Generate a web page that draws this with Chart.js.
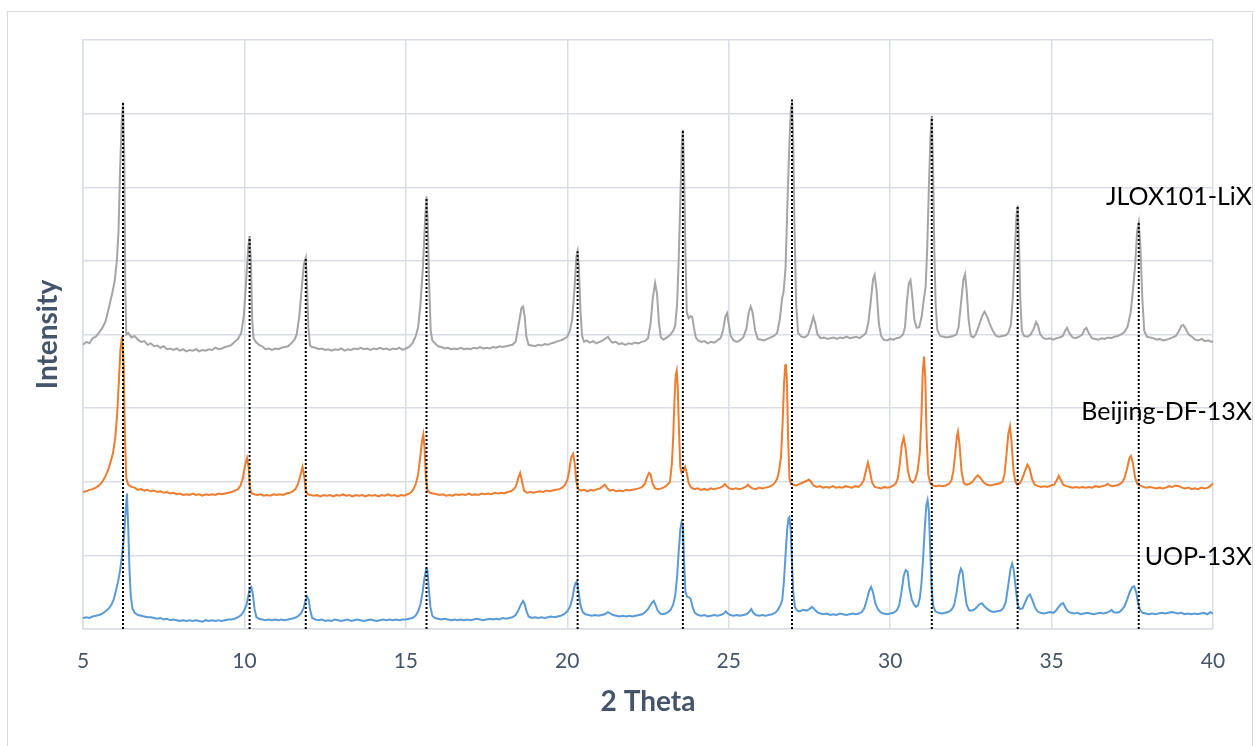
<!DOCTYPE html>
<html>
<head>
<meta charset="utf-8">
<title>XRD patterns</title>
<script src="https://cdn.jsdelivr.net/npm/chart.js@4.4.1/dist/chart.umd.min.js"></script>
<style>
  html, body { margin: 0; padding: 0; background: #ffffff; }
  canvas { display: block; }
</style>
</head>
<body>
<canvas id="xrd" width="1255" height="746"></canvas>
<script>
// ---- Series names ----
const seriesNames = ['UOP-13X', 'Beijing-DF-13X', 'JLOX101-LiX'];

// ---- 2θ tick labels on the x axis ----
const thetaTicks = [5, 10, 15, 20, 25, 30, 35, 40];

// ---- JLOX101-LiX (offset pattern, top) ----
const lixTheta = [
  5.00, 5.10, 5.20, 5.30, 5.40, 5.50, 5.60, 5.70, 5.80, 5.90,
  5.98, 6.05, 6.10, 6.15, 6.20, 6.24, 6.28, 6.31, 6.34, 6.40,
  6.50, 6.60, 6.70, 6.80, 6.90, 7.00, 7.10, 7.20, 7.30, 7.40,
  7.50, 7.60, 7.70, 7.80, 7.90, 8.00, 8.10, 8.20, 8.30, 8.40,
  8.50, 8.60, 8.70, 8.80, 8.90, 9.00, 9.10, 9.20, 9.30, 9.40,
  9.50, 9.60, 9.70, 9.80, 9.90, 9.98, 10.05, 10.12, 10.16, 10.20,
  10.24, 10.28, 10.35, 10.45, 10.55, 10.65, 10.75, 10.85, 10.95, 11.05,
  11.15, 11.25, 11.35, 11.45, 11.55, 11.62, 11.70, 11.77, 11.84, 11.90,
  11.94, 11.98, 12.03, 12.10, 12.20, 12.30, 12.40, 12.50, 12.60, 12.70,
  12.80, 12.90, 13.00, 13.10, 13.20, 13.30, 13.40, 13.50, 13.60, 13.70,
  13.80, 13.90, 14.00, 14.10, 14.20, 14.30, 14.40, 14.50, 14.60, 14.70,
  14.80, 14.90, 15.00, 15.10, 15.20, 15.30, 15.38, 15.45, 15.53, 15.60,
  15.64, 15.68, 15.72, 15.77, 15.82, 15.90, 16.00, 16.10, 16.20, 16.30,
  16.40, 16.50, 16.60, 16.70, 16.80, 16.90, 17.00, 17.10, 17.20, 17.30,
  17.40, 17.50, 17.60, 17.70, 17.80, 17.90, 18.00, 18.10, 18.20, 18.30,
  18.40, 18.50, 18.58, 18.63, 18.68, 18.73, 18.80, 18.90, 19.00, 19.10,
  19.20, 19.30, 19.40, 19.50, 19.60, 19.70, 19.80, 19.90, 20.00, 20.08,
  20.15, 20.22, 20.28, 20.32, 20.36, 20.41, 20.46, 20.52, 20.60, 20.70,
  20.80, 20.90, 21.00, 21.10, 21.20, 21.26, 21.33, 21.40, 21.50, 21.60,
  21.70, 21.80, 21.90, 22.00, 22.10, 22.20, 22.30, 22.40, 22.50, 22.58,
  22.65, 22.72, 22.78, 22.84, 22.90, 22.98, 23.05, 23.12, 23.20, 23.28,
  23.34, 23.40, 23.45, 23.50, 23.55, 23.58, 23.62, 23.66, 23.70, 23.76,
  23.82, 23.87, 23.92, 23.98, 24.05, 24.15, 24.25, 24.35, 24.45, 24.55,
  24.65, 24.75, 24.82, 24.90, 24.95, 25.00, 25.06, 25.15, 25.25, 25.35,
  25.45, 25.55, 25.62, 25.68, 25.74, 25.82, 25.90, 26.00, 26.10, 26.20,
  26.30, 26.40, 26.50, 26.58, 26.65, 26.70, 26.76, 26.82, 26.88, 26.93,
  26.96, 27.00, 27.04, 27.09, 27.15, 27.25, 27.35, 27.45, 27.55, 27.62,
  27.68, 27.75, 27.85, 27.95, 28.05, 28.15, 28.25, 28.35, 28.45, 28.55,
  28.65, 28.75, 28.85, 28.95, 29.05, 29.15, 29.25, 29.32, 29.40, 29.47,
  29.52, 29.58, 29.65, 29.72, 29.80, 29.90, 30.00, 30.10, 30.20, 30.30,
  30.40, 30.46, 30.52, 30.58, 30.63, 30.68, 30.75, 30.82, 30.90, 30.98,
  31.05, 31.10, 31.15, 31.20, 31.25, 31.29, 31.33, 31.37, 31.41, 31.46,
  31.55, 31.65, 31.75, 31.85, 31.95, 32.05, 32.12, 32.20, 32.27, 32.32,
  32.37, 32.43, 32.50, 32.58, 32.65, 32.75, 32.85, 32.92, 33.00, 33.08,
  33.18, 33.28, 33.38, 33.48, 33.58, 33.66, 33.74, 33.80, 33.86, 33.91,
  33.95, 33.99, 34.03, 34.08, 34.15, 34.25, 34.35, 34.45, 34.52, 34.58,
  34.65, 34.75, 34.85, 34.95, 35.05, 35.15, 35.25, 35.35, 35.42, 35.48,
  35.55, 35.65, 35.75, 35.85, 35.95, 36.02, 36.08, 36.15, 36.25, 36.35,
  36.45, 36.55, 36.65, 36.75, 36.85, 36.95, 37.05, 37.15, 37.25, 37.35,
  37.45, 37.52, 37.59, 37.65, 37.70, 37.75, 37.81, 37.87, 37.95, 38.05,
  38.15, 38.25, 38.35, 38.45, 38.55, 38.65, 38.75, 38.85, 38.95, 39.02,
  39.08, 39.15, 39.25, 39.35, 39.45, 39.55, 39.65, 39.75, 39.85, 39.95,
  40.00
];
const lixIntensity = [
  3.86, 3.90, 3.88, 3.95, 3.97, 4.03, 4.09, 4.18, 4.36, 4.55,
  4.72, 5.01, 5.40, 6.25, 6.90, 7.15, 6.40, 4.60, 4.00, 4.02,
  3.96, 3.98, 3.93, 3.90, 3.91, 3.86, 3.88, 3.84, 3.85, 3.82,
  3.84, 3.80, 3.81, 3.79, 3.81, 3.78, 3.80, 3.77, 3.79, 3.78,
  3.80, 3.77, 3.79, 3.78, 3.80, 3.79, 3.82, 3.80, 3.81, 3.83,
  3.84, 3.86, 3.90, 3.94, 4.02, 4.25, 4.70, 5.20, 5.33, 5.00,
  4.20, 3.95, 3.90, 3.86, 3.84, 3.80, 3.81, 3.79, 3.81, 3.80,
  3.82, 3.83, 3.84, 3.88, 3.93, 4.00, 4.25, 4.61, 4.95, 5.04,
  4.70, 4.10, 3.85, 3.83, 3.82, 3.80, 3.81, 3.79, 3.80, 3.78,
  3.80, 3.79, 3.81, 3.78, 3.80, 3.79, 3.81, 3.80, 3.82, 3.80,
  3.81, 3.79, 3.81, 3.80, 3.82, 3.80, 3.81, 3.79, 3.81, 3.80,
  3.82, 3.79, 3.81, 3.83, 3.88, 3.97, 4.10, 4.40, 4.92, 5.60,
  5.87, 5.50, 4.70, 4.05, 3.92, 3.88, 3.84, 3.83, 3.81, 3.82,
  3.80, 3.81, 3.80, 3.82, 3.80, 3.81, 3.80, 3.82, 3.81, 3.83,
  3.81, 3.82, 3.81, 3.83, 3.82, 3.84, 3.83, 3.84, 3.85, 3.86,
  3.90, 4.15, 4.36, 4.38, 4.25, 3.98, 3.86, 3.85, 3.84, 3.86,
  3.85, 3.87, 3.86, 3.88, 3.89, 3.91, 3.92, 3.94, 3.97, 4.05,
  4.20, 4.60, 5.05, 5.13, 4.90, 4.30, 3.98, 3.90, 3.92, 3.89,
  3.91, 3.88, 3.90, 3.92, 3.95, 3.97, 3.92, 3.89, 3.90, 3.87,
  3.88, 3.86, 3.88, 3.87, 3.89, 3.88, 3.90, 3.91, 3.95, 4.15,
  4.50, 4.70, 4.55, 4.15, 3.96, 3.93, 3.95, 3.97, 4.00, 4.05,
  4.12, 4.40, 5.00, 5.80, 6.60, 6.78, 6.20, 5.10, 4.30, 4.22,
  4.25, 4.24, 4.10, 3.96, 3.92, 3.90, 3.91, 3.88, 3.90, 3.89,
  3.92, 3.95, 4.05, 4.25, 4.29, 4.15, 3.98, 3.92, 3.90, 3.92,
  3.96, 4.08, 4.30, 4.38, 4.30, 4.05, 3.94, 3.93, 3.92, 3.94,
  3.96, 3.98, 4.02, 4.20, 4.48, 4.58, 4.90, 5.80, 6.60, 7.10,
  7.19, 6.60, 5.40, 4.40, 4.02, 3.97, 3.96, 3.99, 4.12, 4.24,
  4.15, 4.00, 3.95, 3.96, 3.94, 3.95, 3.96, 3.94, 3.96, 3.95,
  3.97, 3.95, 3.96, 3.97, 3.95, 3.98, 4.02, 4.15, 4.45, 4.75,
  4.81, 4.60, 4.15, 3.98, 3.93, 3.92, 3.94, 3.93, 3.95, 3.96,
  4.00, 4.10, 4.45, 4.70, 4.74, 4.55, 4.20, 4.09, 4.10, 4.25,
  4.50, 4.65, 5.20, 6.00, 6.70, 6.96, 6.30, 5.10, 4.40, 4.06,
  3.98, 3.97, 3.96, 3.97, 3.98, 4.00, 4.10, 4.45, 4.75, 4.82,
  4.60, 4.20, 3.98, 3.96, 4.00, 4.12, 4.25, 4.31, 4.25, 4.15,
  4.05, 3.98, 3.97, 3.98, 3.99, 4.02, 4.13, 4.50, 5.10, 5.60,
  5.75, 5.30, 4.50, 4.05, 3.98, 3.97, 4.00, 4.08, 4.17, 4.12,
  4.00, 3.95, 3.94, 3.95, 3.93, 3.95, 3.96, 3.98, 4.05, 4.09,
  4.02, 3.96, 3.95, 3.97, 4.00, 4.07, 4.09, 4.02, 3.95, 3.94,
  3.93, 3.95, 3.94, 3.96, 3.95, 3.97, 3.98, 4.00, 4.03, 4.10,
  4.30, 4.60, 4.95, 5.40, 5.52, 5.20, 4.50, 4.05, 3.97, 3.96,
  3.95, 3.93, 3.94, 3.92, 3.93, 3.94, 3.96, 3.98, 4.05, 4.12,
  4.13, 4.08, 4.00, 3.97, 3.93, 3.92, 3.94, 3.91, 3.92, 3.90,
  3.91
];

// ---- Beijing-DF-13X (offset pattern, middle) ----
const dfTheta = [
  5.00, 5.10, 5.20, 5.30, 5.40, 5.50, 5.60, 5.70, 5.78, 5.86,
  5.93, 6.00, 6.06, 6.11, 6.16, 6.21, 6.26, 6.30, 6.34, 6.40,
  6.50, 6.60, 6.70, 6.80, 6.90, 7.00, 7.10, 7.20, 7.30, 7.40,
  7.50, 7.60, 7.70, 7.80, 7.90, 8.00, 8.10, 8.20, 8.30, 8.40,
  8.50, 8.60, 8.70, 8.80, 8.90, 9.00, 9.10, 9.20, 9.30, 9.40,
  9.50, 9.60, 9.70, 9.80, 9.88, 9.95, 10.02, 10.08, 10.13, 10.17,
  10.22, 10.30, 10.40, 10.50, 10.60, 10.70, 10.80, 10.90, 11.00, 11.10,
  11.20, 11.30, 11.40, 11.50, 11.58, 11.66, 11.74, 11.80, 11.86, 11.90,
  11.96, 12.05, 12.15, 12.25, 12.35, 12.45, 12.55, 12.65, 12.75, 12.85,
  12.95, 13.05, 13.15, 13.25, 13.35, 13.45, 13.55, 13.65, 13.75, 13.85,
  13.95, 14.05, 14.15, 14.25, 14.35, 14.45, 14.55, 14.65, 14.75, 14.85,
  14.95, 15.05, 15.15, 15.22, 15.30, 15.38, 15.45, 15.50, 15.54, 15.58,
  15.62, 15.67, 15.75, 15.85, 15.95, 16.05, 16.15, 16.25, 16.35, 16.45,
  16.55, 16.65, 16.75, 16.85, 16.95, 17.05, 17.15, 17.25, 17.35, 17.45,
  17.55, 17.65, 17.75, 17.85, 17.95, 18.05, 18.15, 18.25, 18.35, 18.42,
  18.48, 18.54, 18.60, 18.66, 18.75, 18.85, 18.95, 19.05, 19.15, 19.25,
  19.35, 19.45, 19.55, 19.65, 19.75, 19.85, 19.93, 20.00, 20.06, 20.12,
  20.18, 20.23, 20.28, 20.34, 20.42, 20.52, 20.62, 20.72, 20.82, 20.92,
  21.02, 21.10, 21.16, 21.24, 21.32, 21.42, 21.52, 21.62, 21.72, 21.82,
  21.92, 22.02, 22.12, 22.22, 22.32, 22.40, 22.47, 22.53, 22.58, 22.64,
  22.72, 22.82, 22.92, 23.02, 23.10, 23.18, 23.24, 23.28, 23.32, 23.36,
  23.39, 23.42, 23.46, 23.50, 23.54, 23.60, 23.65, 23.70, 23.76, 23.84,
  23.94, 24.04, 24.14, 24.24, 24.34, 24.44, 24.54, 24.64, 24.74, 24.82,
  24.88, 24.94, 25.02, 25.12, 25.22, 25.32, 25.42, 25.52, 25.60, 25.66,
  25.74, 25.84, 25.94, 26.04, 26.14, 26.24, 26.34, 26.42, 26.50, 26.56,
  26.62, 26.67, 26.71, 26.75, 26.77, 26.80, 26.84, 26.88, 26.93, 27.00,
  27.10, 27.20, 27.30, 27.40, 27.48, 27.55, 27.62, 27.72, 27.82, 27.92,
  28.02, 28.12, 28.22, 28.32, 28.42, 28.52, 28.62, 28.72, 28.82, 28.92,
  29.02, 29.10, 29.18, 29.25, 29.31, 29.37, 29.44, 29.52, 29.62, 29.72,
  29.82, 29.92, 30.02, 30.10, 30.18, 30.24, 30.30, 30.36, 30.42, 30.48,
  30.55, 30.62, 30.70, 30.78, 30.85, 30.92, 30.97, 31.01, 31.05, 31.09,
  31.13, 31.18, 31.24, 31.32, 31.42, 31.52, 31.62, 31.72, 31.82, 31.90,
  31.96, 32.02, 32.07, 32.10, 32.15, 32.21, 32.28, 32.36, 32.45, 32.55,
  32.63, 32.72, 32.80, 32.90, 33.00, 33.10, 33.20, 33.30, 33.40, 33.48,
  33.54, 33.60, 33.66, 33.71, 33.76, 33.82, 33.88, 33.94, 34.02, 34.10,
  34.18, 34.25, 34.32, 34.40, 34.48, 34.58, 34.68, 34.78, 34.88, 34.98,
  35.08, 35.16, 35.22, 35.28, 35.36, 35.46, 35.56, 35.66, 35.76, 35.86,
  35.96, 36.06, 36.16, 36.26, 36.36, 36.46, 36.56, 36.66, 36.74, 36.80,
  36.88, 36.98, 37.08, 37.18, 37.26, 37.34, 37.41, 37.46, 37.52, 37.59,
  37.66, 37.74, 37.84, 37.94, 38.04, 38.14, 38.24, 38.34, 38.44, 38.54,
  38.64, 38.74, 38.84, 38.94, 39.04, 39.14, 39.24, 39.34, 39.44, 39.54,
  39.64, 39.74, 39.84, 39.94, 40.00
];
const dfIntensity = [
  1.86, 1.87, 1.89, 1.90, 1.92, 1.95, 2.00, 2.08, 2.16, 2.28,
  2.39, 2.60, 2.93, 3.35, 3.80, 3.97, 3.60, 2.60, 2.05, 1.96,
  1.93, 1.92, 1.89, 1.90, 1.88, 1.89, 1.87, 1.88, 1.86, 1.87,
  1.85, 1.86, 1.84, 1.85, 1.83, 1.84, 1.82, 1.83, 1.82, 1.84,
  1.82, 1.83, 1.81, 1.83, 1.82, 1.83, 1.82, 1.84, 1.83, 1.84,
  1.85, 1.86, 1.88, 1.90, 1.95, 2.05, 2.22, 2.32, 2.20, 1.92,
  1.84, 1.83, 1.82, 1.83, 1.81, 1.82, 1.81, 1.83, 1.82, 1.83,
  1.82, 1.84, 1.85, 1.87, 1.90, 1.97, 2.10, 2.20, 2.05, 1.88,
  1.83, 1.82, 1.81, 1.82, 1.80, 1.82, 1.81, 1.82, 1.80, 1.82,
  1.81, 1.83, 1.81, 1.82, 1.80, 1.82, 1.81, 1.82, 1.80, 1.82,
  1.81, 1.82, 1.80, 1.82, 1.81, 1.83, 1.81, 1.82, 1.80, 1.82,
  1.81, 1.83, 1.85, 1.89, 1.96, 2.10, 2.35, 2.55, 2.64, 2.45,
  2.05, 1.88, 1.85, 1.84, 1.83, 1.82, 1.83, 1.81, 1.82, 1.81,
  1.83, 1.82, 1.83, 1.82, 1.84, 1.82, 1.83, 1.82, 1.84, 1.83,
  1.84, 1.83, 1.85, 1.84, 1.85, 1.84, 1.86, 1.87, 1.90, 1.95,
  2.05, 2.12, 2.00, 1.88, 1.85, 1.86, 1.85, 1.86, 1.87, 1.86,
  1.88, 1.87, 1.88, 1.89, 1.90, 1.92, 1.96, 2.02, 2.15, 2.33,
  2.38, 2.25, 2.00, 1.90, 1.88, 1.89, 1.87, 1.89, 1.88, 1.90,
  1.91, 1.94, 1.96, 1.91, 1.88, 1.89, 1.87, 1.88, 1.87, 1.89,
  1.88, 1.89, 1.90, 1.91, 1.93, 1.97, 2.06, 2.12, 2.10, 1.98,
  1.91, 1.90, 1.91, 1.93, 1.96, 2.00, 2.25, 2.60, 3.10, 3.45,
  3.51, 3.30, 2.70, 2.20, 2.12, 2.15, 2.20, 2.12, 1.98, 1.92,
  1.90, 1.91, 1.89, 1.90, 1.89, 1.91, 1.90, 1.91, 1.92, 1.94,
  1.97, 1.94, 1.91, 1.90, 1.91, 1.90, 1.91, 1.93, 1.96, 1.93,
  1.91, 1.90, 1.92, 1.91, 1.92, 1.93, 1.95, 1.98, 2.04, 2.15,
  2.34, 2.80, 3.30, 3.58, 3.60, 3.40, 2.60, 2.05, 1.97, 1.96,
  1.95, 1.97, 1.99, 2.01, 2.03, 2.00, 1.95, 1.93, 1.94, 1.92,
  1.93, 1.92, 1.94, 1.92, 1.93, 1.92, 1.94, 1.93, 1.92, 1.94,
  1.93, 1.96, 2.02, 2.15, 2.26, 2.15, 1.99, 1.93, 1.92, 1.91,
  1.93, 1.92, 1.93, 1.95, 1.98, 2.05, 2.25, 2.50, 2.60, 2.45,
  2.15, 2.02, 1.99, 2.03, 2.15, 2.40, 2.90, 3.50, 3.70, 3.40,
  2.60, 2.10, 1.98, 1.95, 1.94, 1.95, 1.94, 1.95, 1.97, 2.02,
  2.15, 2.40, 2.62, 2.68, 2.50, 2.15, 1.98, 1.96, 1.97, 2.00,
  2.05, 2.09, 2.05, 1.99, 1.96, 1.95, 1.96, 1.97, 1.98, 2.00,
  2.10, 2.35, 2.65, 2.75, 2.55, 2.15, 2.00, 1.96, 1.98, 2.05,
  2.15, 2.23, 2.18, 2.03, 1.96, 1.94, 1.93, 1.94, 1.93, 1.95,
  1.96, 2.02, 2.08, 2.03, 1.96, 1.94, 1.93, 1.92, 1.93, 1.92,
  1.93, 1.92, 1.93, 1.92, 1.94, 1.93, 1.94, 1.95, 1.97, 1.95,
  1.94, 1.95, 1.96, 1.99, 2.05, 2.18, 2.32, 2.35, 2.25, 2.05,
  1.97, 1.95, 1.93, 1.92, 1.93, 1.92, 1.91, 1.92, 1.91, 1.92,
  1.94, 1.93, 1.95, 1.94, 1.92, 1.91, 1.92, 1.90, 1.91, 1.90,
  1.92, 1.91, 1.92, 1.95, 1.98
];

// ---- UOP-13X (bottom pattern) ----
const uopTheta = [
  5.00, 5.10, 5.20, 5.30, 5.40, 5.50, 5.60, 5.70, 5.80, 5.88,
  5.95, 6.02, 6.09, 6.15, 6.21, 6.27, 6.32, 6.36, 6.40, 6.44,
  6.48, 6.53, 6.60, 6.70, 6.80, 6.90, 7.00, 7.10, 7.20, 7.30,
  7.40, 7.50, 7.60, 7.70, 7.80, 7.90, 8.00, 8.10, 8.20, 8.30,
  8.40, 8.50, 8.60, 8.70, 8.80, 8.90, 9.00, 9.10, 9.20, 9.30,
  9.40, 9.50, 9.60, 9.70, 9.80, 9.90, 9.98, 10.06, 10.12, 10.17,
  10.21, 10.26, 10.31, 10.37, 10.45, 10.55, 10.65, 10.75, 10.85, 10.95,
  11.05, 11.15, 11.25, 11.35, 11.45, 11.55, 11.65, 11.75, 11.83, 11.89,
  11.94, 11.99, 12.04, 12.10, 12.20, 12.30, 12.40, 12.50, 12.60, 12.70,
  12.80, 12.90, 13.00, 13.10, 13.20, 13.30, 13.40, 13.50, 13.60, 13.70,
  13.80, 13.90, 14.00, 14.10, 14.20, 14.30, 14.40, 14.50, 14.60, 14.70,
  14.80, 14.90, 15.00, 15.10, 15.20, 15.30, 15.38, 15.45, 15.52, 15.58,
  15.63, 15.67, 15.71, 15.76, 15.82, 15.90, 16.00, 16.10, 16.20, 16.30,
  16.40, 16.50, 16.60, 16.70, 16.80, 16.90, 17.00, 17.10, 17.20, 17.30,
  17.40, 17.50, 17.60, 17.70, 17.80, 17.90, 18.00, 18.10, 18.20, 18.30,
  18.40, 18.48, 18.56, 18.63, 18.68, 18.74, 18.80, 18.90, 19.00, 19.10,
  19.20, 19.30, 19.40, 19.50, 19.60, 19.70, 19.80, 19.90, 20.00, 20.08,
  20.15, 20.21, 20.26, 20.30, 20.35, 20.41, 20.48, 20.56, 20.66, 20.76,
  20.86, 20.96, 21.06, 21.16, 21.26, 21.34, 21.42, 21.52, 21.62, 21.72,
  21.82, 21.92, 22.02, 22.12, 22.22, 22.32, 22.42, 22.50, 22.57, 22.63,
  22.68, 22.73, 22.80, 22.88, 22.96, 23.04, 23.12, 23.20, 23.28, 23.34,
  23.40, 23.45, 23.50, 23.54, 23.58, 23.62, 23.66, 23.71, 23.77, 23.82,
  23.88, 23.95, 24.05, 24.15, 24.25, 24.35, 24.45, 24.55, 24.65, 24.75,
  24.85, 24.91, 24.97, 25.05, 25.15, 25.25, 25.35, 25.45, 25.55, 25.63,
  25.70, 25.76, 25.84, 25.94, 26.04, 26.14, 26.24, 26.34, 26.44, 26.52,
  26.60, 26.66, 26.71, 26.76, 26.81, 26.85, 26.88, 26.92, 26.96, 27.00,
  27.05, 27.12, 27.20, 27.30, 27.40, 27.50, 27.58, 27.65, 27.74, 27.84,
  27.94, 28.04, 28.14, 28.24, 28.34, 28.44, 28.54, 28.64, 28.74, 28.84,
  28.94, 29.04, 29.12, 29.20, 29.28, 29.35, 29.41, 29.47, 29.54, 29.62,
  29.70, 29.80, 29.90, 30.00, 30.10, 30.20, 30.28, 30.35, 30.42, 30.48,
  30.54, 30.60, 30.67, 30.74, 30.80, 30.86, 30.92, 30.97, 31.02, 31.07,
  31.12, 31.16, 31.20, 31.24, 31.28, 31.33, 31.40, 31.50, 31.60, 31.70,
  31.80, 31.90, 31.98, 32.06, 32.13, 32.19, 32.24, 32.30, 32.37, 32.45,
  32.55, 32.65, 32.75, 32.84, 32.92, 33.02, 33.12, 33.22, 33.32, 33.42,
  33.50, 33.58, 33.66, 33.73, 33.78, 33.83, 33.89, 33.95, 34.02, 34.10,
  34.18, 34.26, 34.33, 34.40, 34.48, 34.56, 34.66, 34.76, 34.86, 34.96,
  35.06, 35.14, 35.22, 35.30, 35.36, 35.42, 35.50, 35.60, 35.70, 35.80,
  35.90, 36.00, 36.10, 36.20, 36.30, 36.40, 36.50, 36.60, 36.70, 36.80,
  36.86, 36.92, 37.00, 37.10, 37.18, 37.26, 37.34, 37.42, 37.50, 37.56,
  37.62, 37.68, 37.74, 37.82, 37.92, 38.02, 38.12, 38.22, 38.32, 38.42,
  38.52, 38.62, 38.72, 38.82, 38.92, 39.02, 39.12, 39.22, 39.32, 39.42,
  39.52, 39.62, 39.72, 39.82, 39.92, 40.00
];
const uopIntensity = [
  0.15, 0.16, 0.15, 0.17, 0.18, 0.19, 0.21, 0.24, 0.28, 0.33,
  0.40, 0.52, 0.65, 0.80, 1.00, 1.25, 1.60, 1.84, 1.40, 0.80,
  0.45, 0.28, 0.22, 0.19, 0.18, 0.17, 0.16, 0.16, 0.15, 0.14,
  0.15, 0.13, 0.14, 0.12, 0.13, 0.12, 0.11, 0.12, 0.11, 0.12,
  0.11, 0.12, 0.11, 0.10, 0.12, 0.11, 0.12, 0.11, 0.12, 0.11,
  0.12, 0.13, 0.13, 0.14, 0.16, 0.19, 0.24, 0.32, 0.45, 0.55,
  0.57, 0.48, 0.28, 0.16, 0.14, 0.13, 0.12, 0.13, 0.12, 0.13,
  0.12, 0.13, 0.12, 0.13, 0.14, 0.15, 0.17, 0.21, 0.28, 0.38,
  0.44, 0.40, 0.25, 0.15, 0.13, 0.12, 0.13, 0.11, 0.12, 0.11,
  0.13, 0.12, 0.11, 0.12, 0.13, 0.11, 0.12, 0.13, 0.12, 0.11,
  0.12, 0.13, 0.12, 0.11, 0.12, 0.13, 0.12, 0.13, 0.12, 0.13,
  0.12, 0.13, 0.13, 0.14, 0.15, 0.18, 0.24, 0.33, 0.50, 0.70,
  0.82, 0.80, 0.55, 0.30, 0.18, 0.15, 0.14, 0.13, 0.14, 0.13,
  0.12, 0.13, 0.12, 0.13, 0.12, 0.13, 0.12, 0.13, 0.14, 0.13,
  0.12, 0.13, 0.14, 0.13, 0.14, 0.13, 0.15, 0.14, 0.15, 0.16,
  0.19, 0.25, 0.33, 0.38, 0.34, 0.24, 0.17, 0.15, 0.16, 0.15,
  0.16, 0.15, 0.16, 0.17, 0.16, 0.17, 0.18, 0.20, 0.24, 0.30,
  0.40, 0.55, 0.63, 0.64, 0.50, 0.32, 0.23, 0.20, 0.19, 0.18,
  0.19, 0.18, 0.19, 0.20, 0.23, 0.21, 0.19, 0.18, 0.17, 0.18,
  0.17, 0.18, 0.17, 0.18, 0.19, 0.20, 0.23, 0.27, 0.32, 0.36,
  0.38, 0.33, 0.25, 0.21, 0.20, 0.21, 0.23, 0.26, 0.33, 0.45,
  0.70, 1.05, 1.35, 1.45, 1.40, 0.90, 0.50, 0.44, 0.43, 0.41,
  0.30, 0.22, 0.19, 0.18, 0.19, 0.17, 0.18, 0.19, 0.18, 0.19,
  0.21, 0.24, 0.21, 0.19, 0.18, 0.19, 0.18, 0.19, 0.20, 0.23,
  0.27, 0.22, 0.19, 0.18, 0.19, 0.18, 0.19, 0.20, 0.22, 0.26,
  0.32, 0.40, 0.65, 1.00, 1.35, 1.50, 1.52, 1.35, 0.90, 0.50,
  0.30, 0.25, 0.24, 0.26, 0.25, 0.27, 0.30, 0.27, 0.23, 0.21,
  0.20, 0.21, 0.19, 0.20, 0.19, 0.21, 0.20, 0.19, 0.20, 0.21,
  0.20, 0.21, 0.23, 0.28, 0.40, 0.52, 0.57, 0.50, 0.35, 0.27,
  0.23, 0.21, 0.20, 0.21, 0.22, 0.25, 0.32, 0.50, 0.72, 0.80,
  0.78, 0.55, 0.40, 0.33, 0.30, 0.32, 0.42, 0.62, 0.95, 1.35,
  1.68, 1.75, 1.60, 1.10, 0.60, 0.32, 0.24, 0.22, 0.21, 0.22,
  0.23, 0.26, 0.32, 0.50, 0.72, 0.82, 0.78, 0.55, 0.33, 0.25,
  0.25, 0.28, 0.33, 0.35, 0.31, 0.27, 0.24, 0.23, 0.24, 0.25,
  0.28, 0.36, 0.60, 0.82, 0.89, 0.80, 0.55, 0.33, 0.27, 0.28,
  0.36, 0.44, 0.47, 0.40, 0.30, 0.24, 0.22, 0.21, 0.22, 0.23,
  0.22, 0.25, 0.30, 0.34, 0.35, 0.30, 0.24, 0.22, 0.21, 0.22,
  0.20, 0.21, 0.22, 0.21, 0.20, 0.21, 0.22, 0.21, 0.22, 0.24,
  0.26, 0.23, 0.22, 0.23, 0.26, 0.31, 0.40, 0.50, 0.57, 0.58,
  0.50, 0.35, 0.26, 0.22, 0.21, 0.20, 0.21, 0.20, 0.21, 0.22,
  0.21, 0.22, 0.23, 0.22, 0.21, 0.22, 0.20, 0.21, 0.20, 0.21,
  0.20, 0.21, 0.22, 0.20, 0.23, 0.21
];

// ---- 2θ of the reference reflections marked by dotted guides ----
const guideTheta = [6.24, 10.16, 11.90, 15.64, 20.32, 23.58, 26.96, 31.29, 33.95, 37.70];

// ---- styling ----
const COLORS = { uop: '#5B9BD5', df: '#ED7D31', lix: '#A5A5A5' };
const GRID = '#D9DEE6';
const AXIS_TEXT = '#44546A';
const FONT = 'Lato, "Open Sans", sans-serif';
// vertical placement (in intensity units) of each pattern's name
const nameLevel = { 'UOP-13X': 0.98, 'Beijing-DF-13X': 2.95, 'JLOX101-LiX': 5.87 };

function toPoints(xs, ys) {
  return xs.map((x, i) => ({ x: x, y: ys[i] }));
}

// each guide runs from the top pattern's peak down to the axis
const guideSets = guideTheta.map(t => {
  const top = lixIntensity[lixTheta.indexOf(t)];
  return {
    data: [{ x: t, y: 0 }, { x: t, y: top }],
    borderColor: '#000000',
    borderWidth: 2,
    borderDash: [2, 2],
    borderCapStyle: 'butt',
    pointRadius: 0,
    order: 0,
    isGuide: true
  };
});

const curve = (label, xs, ys, color, order) => ({
  label: label,
  data: toPoints(xs, ys),
  borderColor: color,
  borderWidth: 2,
  pointRadius: 0,
  tension: 0,
  order: order
});

// frame, axis titles and pattern names
const decorations = {
  id: 'decorations',
  beforeDraw(chart) {
    const ctx = chart.ctx;
    ctx.save();
    ctx.fillStyle = '#ffffff';
    ctx.fillRect(0, 0, chart.width, chart.height);
    ctx.strokeStyle = '#D9D9D9';
    ctx.lineWidth = 1;
    ctx.strokeRect(7.5, 11.5, 1245, 760);
    ctx.restore();
  },
  afterDraw(chart) {
    const ctx = chart.ctx;
    const area = chart.chartArea;
    const ys = chart.scales.y;
    ctx.save();
    ctx.fillStyle = AXIS_TEXT;
    ctx.font = 'bold 28px ' + FONT;
    ctx.textAlign = 'center';
    ctx.textBaseline = 'middle';
    ctx.fillText('2 Theta', (area.left + area.right) / 2, 702);
    ctx.save();
    ctx.translate(48, (area.top + area.bottom) / 2);
    ctx.rotate(-Math.PI / 2);
    ctx.fillText('Intensity', 0, 0);
    ctx.restore();

    ctx.fillStyle = '#000000';
    ctx.font = '25px ' + FONT;
    ctx.textAlign = 'right';
    chart.data.datasets.forEach(ds => {
      if (ds.isGuide) return;
      ctx.fillText(ds.label, area.right + 39, ys.getPixelForValue(nameLevel[ds.label]));
    });
    ctx.restore();
  }
};

new Chart(document.getElementById('xrd'), {
  type: 'line',
  data: {
    datasets: [
      ...guideSets,
      curve(seriesNames[2], lixTheta, lixIntensity, COLORS.lix, 3),
      curve(seriesNames[1], dfTheta, dfIntensity, COLORS.df, 2),
      curve(seriesNames[0], uopTheta, uopIntensity, COLORS.uop, 1)
    ]
  },
  options: {
    responsive: false,
    animation: false,
    events: [],
    layout: { padding: { top: 40, right: 42, bottom: 0, left: 0 } },
    plugins: { legend: { display: false }, tooltip: { enabled: false } },
    scales: {
      x: {
        type: 'linear',
        min: thetaTicks[0],
        max: thetaTicks[thetaTicks.length - 1],
        afterBuildTicks(scale) { scale.ticks = thetaTicks.map(v => ({ value: v })); },
        afterFit(scale) { scale.height = 117; },
        grid: { color: GRID, lineWidth: 1.5, drawTicks: false },
        border: { color: GRID, width: 1.5 },
        ticks: {
          color: AXIS_TEXT,
          font: { family: FONT, size: 21 },
          padding: 20,
          maxRotation: 0
        }
      },
      y: {
        min: 0,
        max: 8,
        afterFit(scale) { scale.width = 83; },
        grid: { color: GRID, lineWidth: 1.5, drawTicks: false },
        border: { color: GRID, width: 1.5 },
        ticks: { stepSize: 1, display: false }
      }
    }
  },
  plugins: [decorations]
});
</script>
</body>
</html>
